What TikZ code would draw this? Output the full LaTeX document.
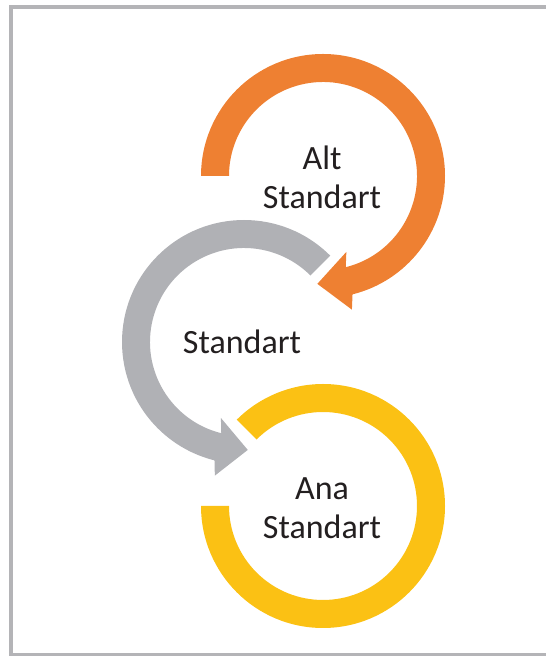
\documentclass[tikz,border=0pt]{standalone}
\usepackage{fontspec}
\setmainfont{Carlito}
\usetikzlibrary{calc}
\definecolor{ringorange}{RGB}{238,128,50}
\definecolor{ringgrey}{RGB}{176,177,181}
\definecolor{ringyellow}{RGB}{251,193,20}
\definecolor{framegrey}{RGB}{180,180,183}
\definecolor{labeltext}{RGB}{35,31,32}
\begin{document}
\begin{tikzpicture}[x=1pt,y=1pt,
  ringlabel/.style={align=center, font=\fontsize{34}{39}\selectfont, text=labeltext, inner sep=0pt}]
\useasboundingbox (0,0) rectangle (546,656);
\clip (0,0) rectangle (546,656);
% outer frame (its right side lies off the page)
\draw[framegrey, line width=4pt] (11,649) rectangle (560,0.5);

% ring centres
\coordinate (O) at (323,480);
\coordinate (G) at (244,314);
\coordinate (Y) at (323,150);

% orange ring: clockwise from the left, arrow head at the bottom
\coordinate (ob) at ($(O)+(-76:108)$);
\coordinate (ot) at ($(O)+(-93:108)$);
\fill[ringorange] ($(O)+(180:122)$) arc[start angle=180, end angle=-76, radius=122]
  -- ($(ob)!29pt!90:(ot)$) -- (ot) -- ($(ob)!29pt!-90:(ot)$)
  -- ($(O)+(-76:94)$) arc[start angle=-76, end angle=180, radius=94] -- cycle;

% grey ring: counter-clockwise from the upper right, arrow head at the bottom
\coordinate (gb) at ($(G)+(256:108)$);
\coordinate (gt) at ($(G)+(272:108)$);
\fill[ringgrey] ($(G)+(45:122)$) arc[start angle=45, end angle=256, radius=122]
  -- ($(gb)!29pt!-90:(gt)$) -- (gt) -- ($(gb)!29pt!90:(gt)$)
  -- ($(G)+(256:94)$) arc[start angle=256, end angle=45, radius=94] -- cycle;

% yellow ring: open between the upper left and the left
\fill[ringyellow] ($(Y)+(180:122)$) arc[start angle=180, end angle=495, radius=122]
  -- ($(Y)+(135:94)$) arc[start angle=135, end angle=-180, radius=94] -- cycle;

% labels
\node[ringlabel] (alt) at (322,479) {Alt\\Standart};
\node[ringlabel, anchor=base] (std) at (242,302) {Standart};
\node[ringlabel] (ana) at (322,147.5) {Ana\\Standart};
\end{tikzpicture}
\end{document}
